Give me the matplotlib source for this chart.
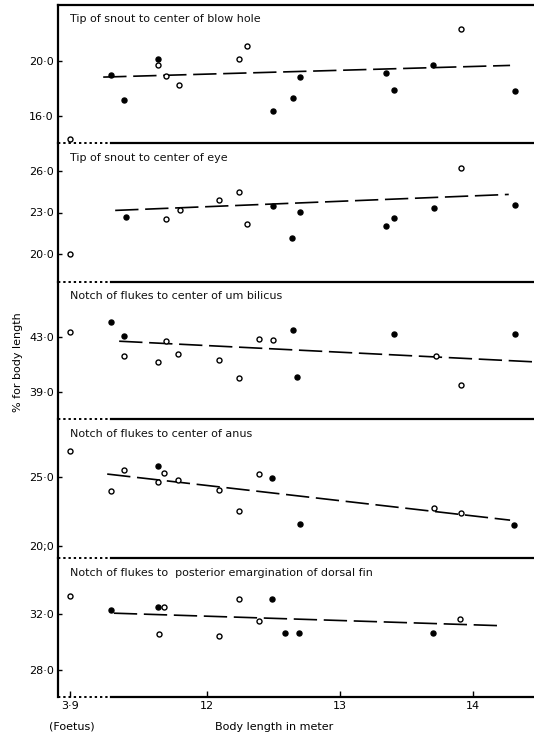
import matplotlib.pyplot as plt

# body lengths (m) and % of body length
# foetus (3.9 m) is drawn on a broken axis to the left of 12 m
foetus_y = [14.3, 20.0, 43.4, 26.9, 33.3]

titles = [
    'Tip of snout to center of blow hole',
    'Tip of snout to center of eye',
    'Notch of flukes to center of um bilicus',
    'Notch of flukes to center of anus',
    'Notch of flukes to  posterior emargination of dorsal fin',
]

# panel 1
p1_open_x = [11.63, 11.69, 11.79, 12.24, 12.30, 13.91]
p1_open_y = [19.7, 18.9, 18.2, 20.1, 21.05, 22.3]
p1_fill_x = [11.28, 11.38, 11.63, 12.50, 12.65, 12.70, 13.35, 13.41, 13.70, 14.32]
p1_fill_y = [18.95, 17.1, 20.15, 16.35, 17.3, 18.8, 19.1, 17.85, 19.7, 17.8]
p1_trend = ([11.22, 14.28], [18.8, 19.65])

# panel 2
p2_open_x = [11.69, 11.80, 12.09, 12.24, 12.30, 13.91]
p2_open_y = [22.55, 23.2, 23.9, 24.45, 22.2, 26.2]
p2_fill_x = [11.39, 12.50, 12.64, 12.70, 13.35, 13.41, 13.71, 14.32]
p2_fill_y = [22.7, 23.5, 21.2, 23.05, 22.0, 22.6, 23.35, 23.55]
p2_trend = ([11.31, 14.27], [23.15, 24.3])

# panel 3
p3_open_x = [11.38, 11.63, 11.69, 11.78, 12.09, 12.24, 12.39, 12.50, 13.72, 13.91]
p3_open_y = [41.6, 41.2, 42.75, 41.8, 41.3, 40.0, 42.85, 42.8, 41.65, 39.55]
p3_fill_x = [11.28, 11.38, 12.65, 12.68, 13.41, 14.32]
p3_fill_y = [44.1, 43.05, 43.5, 40.1, 43.25, 43.25]
p3_trend = ([11.34, 14.46], [42.7, 41.2])

# panel 4
p4_open_x = [11.28, 11.38, 11.63, 11.68, 11.78, 12.09, 12.24, 12.39, 13.71, 13.91]
p4_open_y = [24.0, 25.5, 24.65, 25.3, 24.8, 24.05, 22.5, 25.2, 22.7, 22.35]
p4_fill_x = [11.63, 12.49, 12.70, 14.31]
p4_fill_y = [25.8, 24.9, 21.6, 21.5]
p4_trend = ([11.25, 14.28], [25.2, 21.85])

# panel 5
p5_open_x = [11.68, 11.64, 12.09, 12.24, 12.39, 13.90]
p5_open_y = [32.5, 30.55, 30.45, 33.05, 31.5, 31.65]
p5_fill_x = [11.28, 11.63, 12.49, 12.59, 12.69, 13.70]
p5_fill_y = [32.25, 32.5, 33.1, 30.65, 30.65, 30.65]
p5_trend = ([11.30, 14.22], [32.05, 31.15])

ylims = [(14.0, 24.05), (18.0, 28.0), (37.05, 47.0), (19.1, 29.2), (26.05, 36.0)]
yticks = [[16, 20], [20, 23, 26], [39, 43], [20, 25], [28, 32]]
ytick_labels = [['16·0', '20·0'], ['20·0', '23·0', '26·0'], ['39·0', '43·0'],
                ['20;0', '25·0'], ['28·0', '32·0']]

xticks = [10.97, 12, 13, 14]
xtick_labels = ['3·9', '12', '13', '14']
foetus_pos = 10.97
break_end = 11.28
xlim = (10.88, 14.46)

panels = [
    (p1_open_x, p1_open_y, p1_fill_x, p1_fill_y, p1_trend),
    (p2_open_x, p2_open_y, p2_fill_x, p2_fill_y, p2_trend),
    (p3_open_x, p3_open_y, p3_fill_x, p3_fill_y, p3_trend),
    (p4_open_x, p4_open_y, p4_fill_x, p4_fill_y, p4_trend),
    (p5_open_x, p5_open_y, p5_fill_x, p5_fill_y, p5_trend),
]

W, H = 534, 737
fig = plt.figure(figsize=(W / 100, H / 100), dpi=100)
fig.patch.set_facecolor('white')

edges = [5, 143, 282, 419, 558, 697]
left_px = 58

for i, (ox, oy, fx, fy, trend) in enumerate(panels):
    top, bot = edges[i], edges[i + 1]
    ax = fig.add_axes([left_px / W, 1 - bot / H, 1 - left_px / W, (bot - top) / H])
    ax.set_facecolor('none')
    ax.set_xlim(*xlim)
    ax.set_ylim(*ylims[i])

    for s in ['top', 'right', 'bottom']:
        ax.spines[s].set_visible(False)
    ax.spines['left'].set_linewidth(1.6)

    # panel border: dotted across the axis break, solid after
    ax.plot([xlim[0], break_end], [0, 0], transform=ax.get_xaxis_transform(),
            color='black', lw=1.4, ls=(0, (1.2, 1.5)), clip_on=False)
    ax.plot([break_end, xlim[1]], [0, 0], transform=ax.get_xaxis_transform(),
            color='black', lw=1.6, clip_on=False)
    if i == 0:
        ax.plot([xlim[0], xlim[1]], [1, 1], transform=ax.get_xaxis_transform(),
                color='black', lw=1.6, clip_on=False)

    ax.plot(trend[0], trend[1], color='black', lw=1.2, dashes=(14, 4))
    ax.plot(ox, oy, 'o', ms=3.6, mfc='white', mec='black', mew=1.0, ls='none')
    ax.plot(fx, fy, 'o', ms=3.6, mfc='black', mec='black', ls='none')
    ax.plot([foetus_pos], [foetus_y[i]], 'o', ms=3.6, mfc='white', mec='black',
            mew=1.0, ls='none')

    ax.text(0.025, 0.895, titles[i], transform=ax.transAxes, fontsize=8,
            ha='left', va='center', color='#111111')

    ax.set_yticks(yticks[i])
    ax.set_yticklabels(ytick_labels[i], fontsize=8)
    ax.tick_params(axis='y', direction='in', length=3, width=1, pad=3)

    if i == 4:
        ax.set_xticks(xticks)
        ax.set_xticklabels(xtick_labels, fontsize=8)
        ax.tick_params(axis='x', direction='in', length=4, width=1, pad=3)
        ax.text(0.03, -0.215, '(Foetus)', transform=ax.transAxes, fontsize=8,
                ha='center', va='center')
        ax.text(0.455, -0.215, 'Body length in meter', transform=ax.transAxes,
                fontsize=8, ha='center', va='center')
    else:
        ax.set_xticks([])

fig.text(18 / W, 1 - 362 / H, '% for body length', rotation=90, fontsize=8,
         ha='center', va='center')

fig.savefig('out.png', dpi=100)
